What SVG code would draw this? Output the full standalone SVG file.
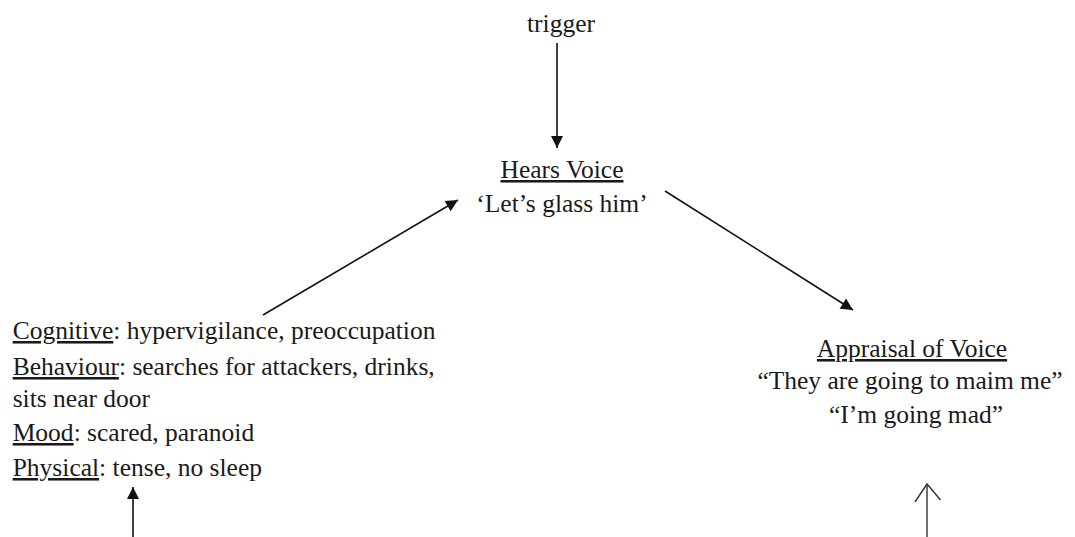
<svg xmlns="http://www.w3.org/2000/svg" width="1075" height="537" viewBox="0 0 1075 537">
<style>
text{font-family:"Liberation Serif","Times New Roman",serif;font-size:25.5px;fill:#1a1a1a}
.c{text-anchor:middle}
.u{text-decoration:underline}
.ln{stroke:#111;stroke-width:1.6;fill:none}
.thin{stroke:#333;stroke-width:1.4;fill:none}
</style>
<defs>
<marker id="ah" viewBox="0 0 10 10" refX="10" refY="5" markerWidth="8" markerHeight="8" markerUnits="userSpaceOnUse" orient="auto" overflow="visible">
<path d="M0,0 L10,5 L0,10 Z" fill="#111" transform="scale(1.5)" transform-origin="10 5"/>
</marker>
</defs>
<rect width="1075" height="537" fill="#fff"/>
<g id="trigger"><text class="c" x="561" y="32">trigger</text></g>
<g id="hears-voice">
<text class="c" x="562" y="178"><tspan class="u">Hears Voice</tspan></text>
<text class="c" x="562" y="212">‘Let’s glass him’</text>
</g>
<g id="consequences">
<text x="12.7" y="339"><tspan class="u">Cognitive</tspan>: hypervigilance, preoccupation</text>
<text x="12.7" y="375"><tspan class="u">Behaviour</tspan>: searches for attackers, drinks,</text>
<text x="12.7" y="407">sits near door</text>
<text x="12.7" y="441"><tspan class="u">Mood</tspan>: scared, paranoid</text>
<text x="12.7" y="476"><tspan class="u">Physical</tspan>: tense, no sleep</text>
</g>
<g id="appraisal">
<text class="c" x="912" y="357"><tspan class="u">Appraisal of Voice</tspan></text>
<text class="c" x="910" y="389">“They are going to maim me”</text>
<text class="c" x="916" y="423">“I’m going mad”</text>
</g>
<g id="connectors">
<line class="ln" x1="557" y1="43" x2="557" y2="148" marker-end="url(#ah)"/>
<line class="ln" x1="263" y1="315" x2="458" y2="200" marker-end="url(#ah)"/>
<line class="ln" x1="665" y1="191" x2="853" y2="310" marker-end="url(#ah)"/>
<line class="ln" x1="133" y1="537" x2="133" y2="487" marker-end="url(#ah)"/>
<line class="thin" x1="927" y1="537" x2="927" y2="484"/>
<polyline class="thin" points="915,502 927,484 940.5,500"/>
</g>
</svg>
